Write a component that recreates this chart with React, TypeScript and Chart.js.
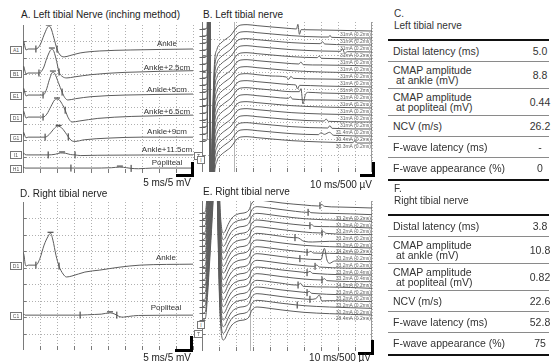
import React, { useEffect, useRef } from 'react';
import { Chart, registerables } from 'chart.js';
Chart.register(...registerables);

type Pt = [number, number];

// ---------------- Panel A : left tibial nerve, inching (ms, mV relative to each baseline)
const aNames = ['Ankle', 'Ankle+2.5cm', 'Ankle+5cm', 'Ankle+6.5cm', 'Ankle+9cm', 'Ankle+11.5cm', 'Popliteal'];
const aChannels = ['A1', 'B1', 'E1', 'D1', 'G1', 'I1', 'H1'];
const aBaselines = [37.7, 30.4, 23.7, 17.0, 10.9, 5.5, 1.5];
const aWaves: Pt[][] = [
  [[0, 0], [0.15, 2.4], [0.6, 0.6], [0.9, -0.3], [1.5, 0], [3.8, 0], [5.0, 1.2], [6.2, 4.3], [7.1, 6.4], [7.6, 7.0], [8.2, 6.4], [9.1, 3.3], [10.0, 0], [10.9, -1.8], [12.1, -2.4], [13.8, -2.0], [16.8, -1.2], [22.6, -0.6], [31.5, -0.3], [50, 0]],
  [[0, 0], [0.15, 2.1], [0.6, 0.5], [0.9, -0.3], [1.5, 0], [4.7, 0], [6.0, 1.5], [7.0, 4.5], [8.0, 6.8], [8.5, 7.3], [9.1, 6.5], [9.9, 3.5], [10.6, 0.3], [11.5, -1.0], [12.9, -1.5], [15, -1.2], [20, -0.5], [30, 0.2], [50, 0.7]],
  [[0, 0], [0.15, 2.1], [0.6, 0.5], [0.9, -0.3], [1.5, 0], [5.9, 0], [6.8, 1.4], [7.7, 4.5], [8.5, 6.7], [8.8, 7.0], [9.4, 6.4], [10.4, 3.8], [11.5, 0.9], [12.3, -0.8], [13.2, -1.5], [15.5, -1.1], [20, -0.5], [30, 0], [50, 0.3]],
  [[0, 0], [0.15, 1.8], [0.6, 0.4], [0.9, -0.3], [1.5, 0], [5.9, 0], [7.0, 0.9], [8.2, 3.2], [9.3, 5.2], [10.0, 5.5], [10.7, 5.2], [11.6, 3.8], [12.4, 2.1], [13.3, -0.2], [14.4, -1.5], [16.5, -1.2], [22, -0.4], [32, 0.2], [50, 0.6]],
  [[0, 0], [0.15, 1.5], [0.6, 0.3], [0.9, -0.2], [1.5, 0], [6.5, 0], [7.7, 0.8], [8.9, 2.3], [9.8, 3.2], [10.5, 3.3], [11.3, 2.9], [12.4, 1.5], [13.3, 0.1], [14.2, -1.0], [15.3, -1.3], [18, -0.8], [25, -0.3], [35, 0], [50, 0]],
  [[0, 0], [0.15, 0.6], [0.6, 0.1], [1.5, 0], [7.4, 0], [9.5, 0.2], [11.0, 0.6], [12.5, 0.5], [14.0, 0.1], [15.3, 0], [17, -0.2], [22, -0.1], [50, 0]],
  [[0, 0], [0.15, 0.3], [0.6, 0], [14.1, 0], [20, 0], [26, 0.1], [28.5, 0.3], [30.5, 0.1], [31.8, -0.1], [34, -0.2], [38, 0], [50, 0]],
];
const aTickMarks: Pt[][] = [
  [[3.8, 0], [10.0, 0]],
  [[4.7, 0], [10.6, 0.3]],
  [[5.9, 0], [11.5, 0.9]],
  [[5.9, 0], [12.4, 2.1]],
  [[6.5, 0], [13.3, 0.1]],
  [[7.4, 0], [15.3, 0]],
  [[14.1, 0], [31.8, -0.1]],
];
const aPeakMarks: Pt[] = [[7.6, 7.0], [8.5, 7.3], [8.8, 7.0], [10.0, 5.5], [10.5, 3.3], [11.5, 0.6], [28.5, 0.3]];

// ---------------- Panel D : right tibial nerve
const dNames = ['Ankle', 'Popliteal'];
const dChannels = ['D1', 'C1'];
const dBaselines = [25.8, 10.6];
const dWaves: Pt[][] = [
  [[0, 4.0], [0.3, 3.0], [0.6, 0.6], [0.9, -0.3], [1.5, 0], [3.8, 0], [5.0, 2.1], [6.2, 6.1], [7.4, 8.8], [8.1, 9.7], [8.8, 7.6], [9.7, 3.0], [10.6, -0.3], [11.8, -2.7], [12.8, -3.6], [14.4, -3.3], [18.2, -2.1], [22.6, -1.5], [28.5, -0.6], [34.4, 0], [50, 0.3]],
  [[0, 0], [0.3, 0.3], [0.6, 0], [16.8, 0], [19, 0.1], [21, 0.2], [23, 0.3], [25.6, 0.7], [26.8, 0.4], [27.6, 0], [28.5, -0.5], [29.5, -0.6], [31, -0.4], [34, -0.1], [50, 0]],
];
const dTickMarks: Pt[][] = [
  [[3.8, 0], [10.6, -0.3]],
  [[16.8, 0], [27.6, 0]],
];
const dPeakMarks: Pt[] = [[8.1, 9.7], [25.6, 0.7]];

// ---------------- Panel B : left tibial nerve F-waves (ms, mV)
const bStimLabels = ['31mA (0.2ms)', '31mA (0.2ms)', '31mA (0.2ms)', '31mA (0.2ms)', '31mA (0.2ms)', '31mA (0.2ms)', '31mA (0.2ms)', '31mA (0.2ms)', '31mA (0.2ms)', '31mA (0.2ms)', '31mA (0.2ms)', '31mA (0.2ms)', '31mA (0.2ms)', '31mA (0.2ms)', '31.4mA (0.2ms)', '30.4mA (0.2ms)', '30.3mA (0.2ms)'];
const bBaselines = [4.23, 4.02, 3.81, 3.6, 3.39, 3.18, 2.97, 2.76, 2.55, 2.34, 2.13, 1.92, 1.71, 1.5, 1.29, 1.08, 0.87];
const bHead: Pt[] = [[0, 0.06], [3.0, 0.09], [3.6, 2.5], [4.1, 4.6], [4.6, 1.0], [5.2, -4.6], [6.2, -2.6], [7.3, -1.0], [8.8, -0.55], [11.2, -0.36], [14.1, -0.24], [17.1, -0.12], [18.8, 0.0], [20.6, 0.12], [22.9, 0.18], [26.5, 0.19], [32.4, 0.16], [41.2, 0.12]];
const bTails: Pt[][] = [
  [[52.9, 0.07], [55.6, 0.06], [56.4, 0.2], [57.3, -0.1], [58.3, 0.04], [70.6, 0.03], [100, 0]],
  [[52.9, 0.07], [70.6, 0.03], [74.5, 0.03], [75.3, 0.08], [76.2, 0.02], [100, 0]],
  [[52.9, 0.07], [69.5, 0.04], [70.8, 0.1], [72.2, 0.03], [100, 0]],
  [[52.9, 0.07], [70.6, 0.03], [81.5, 0.02], [82.6, 0.1], [84, -0.04], [85.5, 0.01], [100, 0]],
  [[52.9, 0.07], [67.8, 0.04], [69, 0.09], [70.3, 0.02], [100, 0]],
  [[52.9, 0.07], [57, 0.06], [58.2, 0.12], [59.5, 0.04], [70.6, 0.03], [100, 0]],
  [[52.9, 0.07], [70.6, 0.03], [100, 0]],
  [[49.5, 0.09], [51, 0.02], [52.3, 0.11], [53.6, 0.05], [70.6, 0.03], [100, 0]],
  [[52.9, 0.07], [55.2, 0.06], [56.2, -0.06], [57.4, 0.05], [70.6, 0.03], [100, 0]],
  [[52.9, 0.07], [57.3, 0.07], [58.2, 0.16], [59.4, -0.3], [60.8, -0.02], [62.5, 0.05], [70.6, 0.03], [100, 0]],
  [[50.8, 0.08], [52, 0.13], [53.2, 0.06], [70.6, 0.03], [100, 0]],
  [[52.9, 0.07], [70.6, 0.03], [100, 0]],
  [[52.9, 0.07], [70.6, 0.03], [100, 0]],
  [[52.9, 0.07], [71.8, 0.03], [73, 0.09], [74.3, 0.02], [100, 0]],
  [[52.9, 0.07], [74, 0.03], [75.2, 0.1], [76.5, 0.02], [100, 0]],
  [[52.9, 0.07], [68.5, 0.04], [70, 0.1], [72, 0.05], [75, 0.11], [77.5, 0.02], [100, 0]],
  [[52.9, 0.07], [70.6, 0.03], [88.8, 0.01], [90, 0.08], [91.3, 0], [100, 0]],
];
const bCursorMs = 18.8;

// ---------------- Panel E : right tibial nerve F-waves (ms, mV)
const eStimLabels = ['', '33.2mA (0.2ms)', '33.2mA (0.2ms)', '33.2mA (0.2ms)', '33.2mA (0.2ms)', '33.2mA (0.2ms)', '34.2mA (0.2ms)', '33.2mA (0.2ms)', '33.2mA (0.2ms)', '33.2mA (0.4ms)', '33.2mA (0.4ms)', '34.2mA (0.2ms)', '33.2mA (0.2ms)', '33.2mA (0.2ms)', '33.2mA (0.2ms)', '30.2mA (0.2ms)', '28.4mA (0.2ms)'];
const eBaselines = [4.29, 4.09, 3.89, 3.69, 3.49, 3.29, 3.09, 2.89, 2.68, 2.48, 2.28, 2.08, 1.88, 1.68, 1.48, 1.28, 1.08];
const eHead: Pt[] = [[0, -0.15], [2.0, -0.1], [3.0, 0.4], [4.5, 1.6], [6.0, 2.9], [7.4, 4.2], [8.2, 4.8], [8.8, 4.0], [9.6, 2.0], [10.4, 0.3], [11.4, -0.55], [12.6, -0.75], [13.6, -0.7], [15.3, -0.5], [17.6, -0.3], [21.2, -0.18], [25.9, -0.13], [27.6, -0.06], [29.4, 0.15], [32.4, 0.24], [38.2, 0.21], [47.1, 0.15]];
const eTails: Pt[][] = [
  [[60, 0.09], [68.5, 0.06], [70.5, 0.1], [72, 0.05], [80, 0.03], [100, 0]],
  [[55, 0.1], [62, 0.07], [63, 0.1], [64, 0.06], [75, 0.04], [100, 0]],
  [[60, 0.08], [75, 0.04], [100, 0]],
  [[60, 0.08], [63, 0.07], [64.5, 0.1], [66, 0.05], [75, 0.04], [100, 0]],
  [[60, 0.08], [70, 0.05], [71.5, 0.09], [73, 0.04], [100, 0]],
  [[54, 0.11], [56, 0.11], [60, 0.0], [65, -0.02], [75, 0.0], [100, 0]],
  [[60, 0.08], [75, 0.04], [100, 0]],
  [[60, 0.08], [62.5, 0.07], [64, 0.1], [65.5, 0.05], [75, 0.04], [100, 0]],
  [[56, 0.1], [58, 0.09], [70, 0.06], [72, 0.4], [73.5, 0.05], [75, -0.05], [78, 0.02], [100, 0]],
  [[60, 0.08], [66, 0.06], [67.5, 0.1], [69, 0.04], [100, 0]],
  [[60, 0.08], [61.8, 0.07], [63.5, 0.11], [65, 0.05], [100, 0]],
  [[60, 0.08], [70.6, 0.05], [72, 0.09], [73.5, 0.03], [100, 0]],
  [[55, 0.1], [56.5, 0.1], [58, 0.15], [59.5, 0.06], [75, 0.04], [100, 0]],
  [[60, 0.08], [61.8, 0.07], [63, 0.11], [64.5, 0.05], [100, 0]],
  [[60, 0.08], [63.5, 0.07], [67, 0.09], [69, 0.2], [70.5, 0.02], [75, 0.03], [100, 0]],
  [[56, 0.1], [60, 0.08], [75, 0.04], [100, 0]],
  [[60, 0.08], [75, 0.04], [100, 0]],
];
const eMarks: (Pt | null)[] = [[69.4, 0.07], [62.4, 0.07], null, [63.5, 0.07], [70.6, 0.05], [54.7, 0.11], null, [61.8, 0.07], [57.6, 0.09], [66.5, 0.06], [61.8, 0.07], [70.6, 0.05], [56.5, 0.1], [61.8, 0.07], [63.5, 0.07], [56, 0.1], null];
const eCursorMs = 28.2;

// ---------------- Tables C and F
const cRows: [string[], string][] = [
  [['Distal latency (ms)'], '5.0'],
  [['CMAP amplitude', 'at ankle (mV)'], '8.8'],
  [['CMAP amplitude', 'at popliteal (mV)'], '0.44'],
  [['NCV (m/s)'], '26.2'],
  [['F-wave latency (ms)'], '-'],
  [['F-wave appearance (%)'], '0'],
];
const fRows: [string[], string][] = [
  [['Distal latency (ms)'], '3.8'],
  [['CMAP amplitude', 'at ankle (mV)'], '10.8'],
  [['CMAP amplitude', 'at popliteal (mV)'], '0.82'],
  [['NCV (m/s)'], '22.6'],
  [['F-wave latency (ms)'], '52.8'],
  [['F-wave appearance (%)'], '75'],
];

// ---------------- layout
const FONT = '"Liberation Sans", Arial, Helvetica, sans-serif';
const TRACE = '#5c5c5c';
const PAD = 8;

type Geo = { left: number; top: number; w: number; h: number; xMax: number; yMax: number; xStep: number; yStep: number };
const geoA: Geo = { left: 23, top: 25, w: 170, h: 148, xMax: 50, yMax: 45, xStep: 5, yStep: 5 };
const geoD: Geo = { left: 23, top: 202, w: 170, h: 148, xMax: 50, yMax: 45, xStep: 5, yStep: 5 };
const geoB: Geo = { left: 202, top: 22, w: 170, h: 150, xMax: 100, yMax: 4.5, xStep: 10, yStep: 0.5 };
const geoE: Geo = { left: 202, top: 201, w: 170, h: 150, xMax: 100, yMax: 4.5, xStep: 10, yStep: 0.5 };

const py = (g: Geo, v: number) => g.top + ((g.yMax - v) / g.yMax) * g.h;

const toXY = (pts: Pt[], base: number) => pts.map(([x, y]) => ({ x, y: y + base }));

function lineSet(pts: Pt[], base: number) {
  return { data: toXY(pts, base), borderColor: TRACE, borderWidth: 1, pointRadius: 0, cubicInterpolationMode: 'monotone', fill: false };
}
function markSet(pts: { x: number; y: number }[], rotation: number, radius: number) {
  return { data: pts, showLine: false, pointStyle: 'line', pointRadius: radius, pointRotation: rotation, pointBorderColor: '#2a2a2a', pointBorderWidth: 1, borderColor: '#2a2a2a' };
}

type ScopeProps = { geo: Geo; datasets: any[]; cursorMs?: number; startLevels?: number[]; rightBorder?: boolean };

function Scope({ geo, datasets, cursorMs, startLevels, rightBorder }: ScopeProps) {
  const ref = useRef<HTMLCanvasElement>(null);
  useEffect(() => {
    const grid = {
      id: 'scopeGrid',
      beforeDatasetsDraw(chart: any) {
        const ctx = chart.ctx as CanvasRenderingContext2D;
        const xs = chart.scales.x;
        const ys = chart.scales.y;
        const { left, right, top, bottom } = chart.chartArea;
        const seg = (x1: number, y1: number, x2: number, y2: number) => {
          ctx.beginPath();
          ctx.moveTo(x1, y1);
          ctx.lineTo(x2, y2);
          ctx.stroke();
        };
        const nx = Math.round(geo.xMax / geo.xStep);
        const ny = Math.round(geo.yMax / geo.yStep);
        ctx.save();
        ctx.lineWidth = 1;
        ctx.strokeStyle = '#b0b0b0';
        ctx.setLineDash([1, 2]);
        for (let i = 1; i <= nx; i++) {
          const x = Math.round(xs.getPixelForValue(i * geo.xStep)) + 0.5;
          seg(x, top, x, bottom);
        }
        for (let j = 1; j < ny; j++) {
          const y = Math.round(ys.getPixelForValue(j * geo.yStep)) + 0.5;
          seg(left, y, right, y);
        }
        ctx.setLineDash([]);
        ctx.strokeStyle = '#7a7a7a';
        const lx = Math.round(left) + 0.5;
        seg(lx, top, lx, bottom);
        for (let j = 1; j < ny; j++) {
          const y = Math.round(ys.getPixelForValue(j * geo.yStep)) + 0.5;
          seg(lx, y, lx + 3, y);
        }
        for (let i = 1; i <= nx; i++) {
          const x = Math.round(xs.getPixelForValue(i * geo.xStep)) + 0.5;
          seg(x, bottom, x, bottom - 4);
        }
        if (rightBorder) {
          const rx = Math.round(right) - 0.5;
          ctx.strokeStyle = '#9a9a9a';
          seg(rx, top, rx, bottom);
        }
        if (cursorMs !== undefined) {
          ctx.strokeStyle = '#b5b5b5';
          const cx = Math.round(xs.getPixelForValue(cursorMs)) + 0.5;
          seg(cx, top, cx, bottom);
        }
        if (startLevels) {
          ctx.strokeStyle = '#666';
          startLevels.forEach((v) => {
            const y = Math.round(ys.getPixelForValue(v)) + 0.5;
            seg(lx - 3, y, lx + 3, y);
          });
        }
        ctx.restore();
      },
    };
    const chart = new Chart(ref.current as HTMLCanvasElement, {
      type: 'line',
      data: { datasets },
      options: {
        animation: false,
        responsive: false,
        maintainAspectRatio: false,
        devicePixelRatio: 1,
        events: [],
        layout: { padding: PAD },
        plugins: { legend: { display: false }, tooltip: { enabled: false }, title: { display: false } },
        scales: {
          x: { type: 'linear', min: 0, max: geo.xMax, display: false },
          y: { type: 'linear', min: 0, max: geo.yMax, display: false },
        },
      } as any,
      plugins: [grid],
    });
    return () => chart.destroy();
  }, []);
  return (
    <canvas
      ref={ref}
      width={geo.w + 2 * PAD}
      height={geo.h + 2 * PAD}
      style={{ position: 'absolute', left: geo.left - PAD, top: geo.top - PAD, width: geo.w + 2 * PAD, height: geo.h + 2 * PAD }}
    />
  );
}

// text helper: place text by its baseline (Liberation Sans metrics)
function Txt({ x, base, size, children, align = 'left', color = '#222', w = 200 }: any) {
  const lh = Math.round(size * 1.2);
  const off = (lh - size * 1.117) / 2 + size * 0.905;
  const left = align === 'left' ? x : align === 'right' ? x - w : x - w / 2;
  return (
    <div style={{ position: 'absolute', left, top: base - off, width: w, fontSize: size, lineHeight: `${lh}px`, textAlign: align, color, whiteSpace: 'nowrap' }}>
      {children}
    </div>
  );
}

function MiniBox({ x, y, w, h, label }: { x: number; y: number; w: number; h: number; label: string }) {
  return (
    <div style={{ position: 'absolute', left: x, top: y, width: w, height: h, border: '1px solid #777', fontSize: 5, lineHeight: `${h}px`, textAlign: 'center', color: '#555', background: '#fff', overflow: 'hidden' }}>
      {label}
    </div>
  );
}

function ChanBox({ y, label }: { y: number; label: string }) {
  return <MiniBox x={10} y={y - 3.5} w={10} h={6} label={label} />;
}

function ScaleBar({ right, bottom, w, h }: { right: number; bottom: number; w: number; h: number }) {
  return (
    <>
      <div style={{ position: 'absolute', left: right - 3, top: bottom - h, width: 3, height: h, background: '#000' }} />
      <div style={{ position: 'absolute', left: right - w, top: bottom - 3, width: w, height: 3, background: '#000' }} />
    </>
  );
}

function InfoTable({ letter, title, rows, lineTop }: { letter: string; title: string; rows: [string[], string][]; lineTop: number }) {
  const heights = rows.map((r) => (r[0].length > 1 ? 27 : 21));
  let y = lineTop + 2;
  return (
    <>
      <Txt x={394} base={lineTop - 22} size={10} color="#333">{letter}</Txt>
      <Txt x={394} base={lineTop - 10} size={10} color="#333">{title}</Txt>
      <div style={{ position: 'absolute', left: 388, top: lineTop, width: 161, height: 2, background: '#111' }} />
      {rows.map((r, i) => {
        const top = y;
        const h = heights[i];
        y += h;
        const last = i === rows.length - 1;
        const n = r[0].length;
        return (
          <div key={i} style={{ position: 'absolute', left: 388, top, width: 161, height: h - (last ? 0 : 1), borderBottom: last ? 'none' : '1px solid #8a8a8a', color: '#333', fontSize: 10.5 }}>
            <div style={{ position: 'absolute', left: 5, top: (h - 1 - n * 10) / 2, lineHeight: '10px' }}>
              {r[0].map((t, k) => (
                <div key={k} style={{ paddingLeft: k > 0 ? 3 : 0, whiteSpace: 'nowrap' }}>{t}</div>
              ))}
            </div>
            <div style={{ position: 'absolute', left: 132, width: 40, top: (h - 1 - 12) / 2, lineHeight: '12px', textAlign: 'center' }}>{r[1]}</div>
          </div>
        );
      })}
      <div style={{ position: 'absolute', left: 388, top: y, width: 161, height: 2, background: '#111' }} />
    </>
  );
}

export default function App() {
  const aSets = [
    ...aWaves.map((w, k) => lineSet(w, aBaselines[k])),
    markSet(aTickMarks.flatMap((m, k) => toXY(m, aBaselines[k])), 90, 3.5),
    markSet(aPeakMarks.map(([x, v], k) => ({ x, y: v + aBaselines[k] + 0.3 })), 0, 3),
  ];
  const dSets = [
    ...dWaves.map((w, k) => lineSet(w, dBaselines[k])),
    markSet(dTickMarks.flatMap((m, k) => toXY(m, dBaselines[k])), 90, 3.5),
    markSet(dPeakMarks.map(([x, v], k) => ({ x, y: v + dBaselines[k] + 0.3 })), 0, 3),
  ];
  const bSets = bBaselines.map((b, k) => lineSet([...bHead, ...bTails[k]], b));
  const eSets = [
    ...eBaselines.map((b, k) => lineSet([...eHead, ...eTails[k]], b)),
    markSet(eMarks.flatMap((m, k) => (m ? toXY([m], eBaselines[k]) : [])), 90, 3.5),
  ];

  return (
    <div style={{ position: 'absolute', left: 0, top: 0, width: 551, height: 362, background: '#fff', overflow: 'hidden', fontFamily: FONT }}>
      {/* Panel A */}
      <Txt x={21} base={18.5} size={10}>A. Left tibial Nerve (inching method)</Txt>
      <Scope geo={geoA} datasets={aSets} />
      {aNames.map((n, k) => (
        <Txt key={n} x={167} w={80} align="center" size={8} base={py(geoA, aBaselines[k]) - 2.5} color="#333">{n}</Txt>
      ))}
      {aChannels.map((c, k) => <ChanBox key={c} y={py(geoA, aBaselines[k])} label={c} />)}
      <MiniBox x={194} y={152} w={7} h={6} label="T" />
      <ScaleBar right={194} bottom={177} w={18} h={15} />
      <Txt x={191} align="right" w={80} size={10} base={186.5}>5 ms/5 mV</Txt>

      {/* Panel B */}
      <Txt x={203} base={18.5} size={10}>B. Left tibial nerve</Txt>
      <Scope geo={geoB} datasets={bSets} cursorMs={bCursorMs} startLevels={bBaselines.map((b) => b + bHead[0][1])} rightBorder />
      {bStimLabels.map((s, k) => (
        <Txt key={k} x={371} align="right" w={60} size={5} base={py(geoB, bBaselines[k]) + 5} color="#666">{s}</Txt>
      ))}
      <MiniBox x={197} y={156} w={6} h={6} label="I" />
      <ScaleBar right={375} bottom={177} w={15} h={15} />
      <Txt x={372} align="right" w={90} size={10} base={188.5}>10 ms/500 µV</Txt>

      {/* Panel C */}
      <InfoTable letter="C." title="Left tibial nerve" rows={cRows} lineTop={39} />

      {/* Panel D */}
      <Txt x={20} base={197.5} size={10}>D. Right tibial nerve</Txt>
      <Scope geo={geoD} datasets={dSets} />
      {dNames.map((n, k) => (
        <Txt key={n} x={166} w={80} align="center" size={8} base={py(geoD, dBaselines[k]) - 4.5} color="#333">{n}</Txt>
      ))}
      {dChannels.map((c, k) => <ChanBox key={c} y={py(geoD, dBaselines[k])} label={c} />)}
      <MiniBox x={194} y={330} w={7} h={6} label="T" />
      <ScaleBar right={193} bottom={352} w={18} h={16} />
      <Txt x={191} align="right" w={80} size={10} base={361}>5 ms/5 mV</Txt>

      {/* Panel E */}
      <Txt x={203} base={195.5} size={10}>E. Right tibial nerve</Txt>
      <Scope geo={geoE} datasets={eSets} cursorMs={eCursorMs} startLevels={eBaselines.map((b) => b + eHead[0][1])} rightBorder />
      {eStimLabels.map((s, k) => (s ? (
        <Txt key={k} x={371} align="right" w={60} size={5} base={py(geoE, eBaselines[k]) + 5} color="#666">{s}</Txt>
      ) : null))}
      <MiniBox x={197} y={321} w={6} h={6} label="I" />
      <ScaleBar right={374} bottom={355} w={16} h={15} />
      <Txt x={371} align="right" w={90} size={10} base={361.5}>10 ms/500 µV</Txt>

      {/* Panel F */}
      <InfoTable letter="F." title="Right tibial nerve" rows={fRows} lineTop={214} />
    </div>
  );
}
